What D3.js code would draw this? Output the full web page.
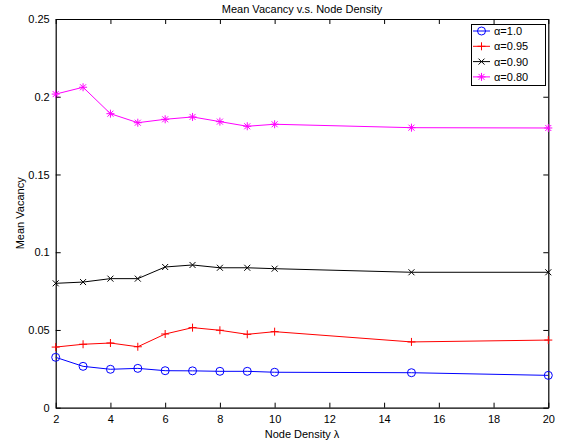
<!DOCTYPE html>
<html>
<head>
<meta charset="utf-8">
<script src="https://cdn.jsdelivr.net/npm/d3@7"></script>
<style>
  body { margin: 0; background: #fff; }
  svg text { font-family: "Liberation Sans", Arial, sans-serif; }
</style>
</head>
<body>
<div id="chart"></div>
<script>
// node density values (x)
const density = [2, 3, 4, 5, 6, 7, 8, 9, 10, 15, 20];

// mean vacancy for each alpha
const alpha100 = [0.0324, 0.0266, 0.0247, 0.0253, 0.0238, 0.0237, 0.0234, 0.0234, 0.0228, 0.0225, 0.0208];
const alpha095 = [0.0390, 0.0408, 0.0416, 0.0392, 0.0474, 0.0515, 0.0498, 0.0472, 0.0489, 0.0423, 0.0435];
const alpha090 = [0.0800, 0.0808, 0.0830, 0.0830, 0.0905, 0.0918, 0.0900, 0.0900, 0.0894, 0.0871, 0.0871];
const alpha080 = [0.2017, 0.2061, 0.1891, 0.1833, 0.1855, 0.1870, 0.1840, 0.1810, 0.1823, 0.1801, 0.1799];

const seriesNames = ["\u03b1=1.0", "\u03b1=0.95", "\u03b1=0.90", "\u03b1=0.80"];
const xTicks = [2, 4, 6, 8, 10, 12, 14, 16, 18, 20];
const yTicks = [0, 0.05, 0.1, 0.15, 0.2, 0.25];
const yTickLabels = ["0", "0.05", "0.1", "0.15", "0.2", "0.25"];

const width = 564;
const height = 445;
const plotL = 55.7, plotR = 548.3, plotT = 19, plotB = 407.7;

const series = [
  { name: seriesNames[0], values: alpha100, color: "#0000ff", marker: "circle" },
  { name: seriesNames[1], values: alpha095, color: "#ff0000", marker: "plus" },
  { name: seriesNames[2], values: alpha090, color: "#000000", marker: "cross" },
  { name: seriesNames[3], values: alpha080, color: "#ff00ff", marker: "star" }
];

const svg = d3.select("#chart").append("svg")
  .attr("width", width)
  .attr("height", height);

const x = d3.scaleLinear().domain([2, 20]).range([plotL, plotR]);
const y = d3.scaleLinear().domain([0, 0.25]).range([plotB, plotT]);

// tick marks pointing inward on all four sides
const tickLen = 5;
const xAxisB = d3.axisBottom(x).tickValues(xTicks).tickSizeInner(-tickLen).tickSizeOuter(0).tickPadding(8);
const xAxisT = d3.axisTop(x).tickValues(xTicks).tickSizeInner(-tickLen).tickSizeOuter(0).tickFormat("");
const yAxisL = d3.axisLeft(y).tickValues(yTicks).tickSizeInner(-tickLen).tickSizeOuter(0).tickPadding(6)
  .tickFormat((d, i) => yTickLabels[i]);
const yAxisR = d3.axisRight(y).tickValues(yTicks).tickSizeInner(-tickLen).tickSizeOuter(0).tickFormat("");

function styleAxis(g) {
  g.select(".domain").attr("stroke", "#000").attr("stroke-width", 1.2);
  g.selectAll(".tick line").attr("stroke", "#000");
  g.selectAll(".tick text").attr("fill", "#000").style("font-size", "11px");
}

svg.append("g").attr("transform", `translate(0,${plotB})`).call(xAxisB).call(styleAxis);
svg.append("g").attr("transform", `translate(0,${plotT})`).call(xAxisT).call(styleAxis);
svg.append("g").attr("transform", `translate(${plotL},0)`).call(yAxisL).call(styleAxis);
svg.append("g").attr("transform", `translate(${plotR},0)`).call(yAxisR).call(styleAxis);

// markers
function drawMarker(g, type, cx, cy, color) {
  if (type === "circle") {
    g.append("circle").attr("cx", cx).attr("cy", cy).attr("r", 4)
      .attr("fill", "none").attr("stroke", color).attr("stroke-width", 1);
  } else if (type === "plus") {
    g.append("path").attr("d", `M${cx - 4},${cy}H${cx + 4}M${cx},${cy - 4}V${cy + 4}`)
      .attr("stroke", color).attr("stroke-width", 1);
  } else if (type === "cross") {
    g.append("path").attr("d", `M${cx - 3},${cy - 3}L${cx + 3},${cy + 3}M${cx - 3},${cy + 3}L${cx + 3},${cy - 3}`)
      .attr("stroke", color).attr("stroke-width", 1);
  } else if (type === "star") {
    g.append("path").attr("d",
      `M${cx - 4},${cy}H${cx + 4}M${cx},${cy - 4}V${cy + 4}` +
      `M${cx - 3},${cy - 3}L${cx + 3},${cy + 3}M${cx - 3},${cy + 3}L${cx + 3},${cy - 3}`)
      .attr("stroke", color).attr("stroke-width", 1);
  }
}

const line = d3.line()
  .x((d, i) => x(density[i]))
  .y(d => y(d));

series.forEach(s => {
  const g = svg.append("g");
  g.append("path")
    .attr("d", line(s.values))
    .attr("fill", "none")
    .attr("stroke", s.color)
    .attr("stroke-width", 1);
  s.values.forEach((v, i) => drawMarker(g, s.marker, x(density[i]), y(v), s.color));
});

// legend
const lg = svg.append("g");
lg.append("rect")
  .attr("x", 471.5).attr("y", 24.5)
  .attr("width", 74).attr("height", 61)
  .attr("fill", "#fff").attr("stroke", "#000").attr("stroke-width", 1);
series.forEach((s, i) => {
  const ly = 31 + i * 15.3;
  lg.append("line")
    .attr("x1", 473).attr("x2", 490).attr("y1", ly).attr("y2", ly)
    .attr("stroke", s.color).attr("stroke-width", 1);
  drawMarker(lg, s.marker, 481.5, ly, s.color);
  lg.append("text")
    .attr("x", 494).attr("y", ly + 4)
    .style("font-size", "11px")
    .text(s.name);
});

// title and labels
svg.append("text")
  .attr("x", (plotL + plotR) / 2).attr("y", 13)
  .attr("text-anchor", "middle")
  .style("font-size", "11px")
  .text("Mean Vacancy v.s. Node Density");

svg.append("text")
  .attr("x", (plotL + plotR) / 2).attr("y", 438)
  .attr("text-anchor", "middle")
  .style("font-size", "11px")
  .text("Node Density \u03bb");

svg.append("text")
  .attr("transform", `translate(24,${(plotT + plotB) / 2}) rotate(-90)`)
  .attr("text-anchor", "middle")
  .style("font-size", "11px")
  .text("Mean Vacancy");
</script>
</body>
</html>
